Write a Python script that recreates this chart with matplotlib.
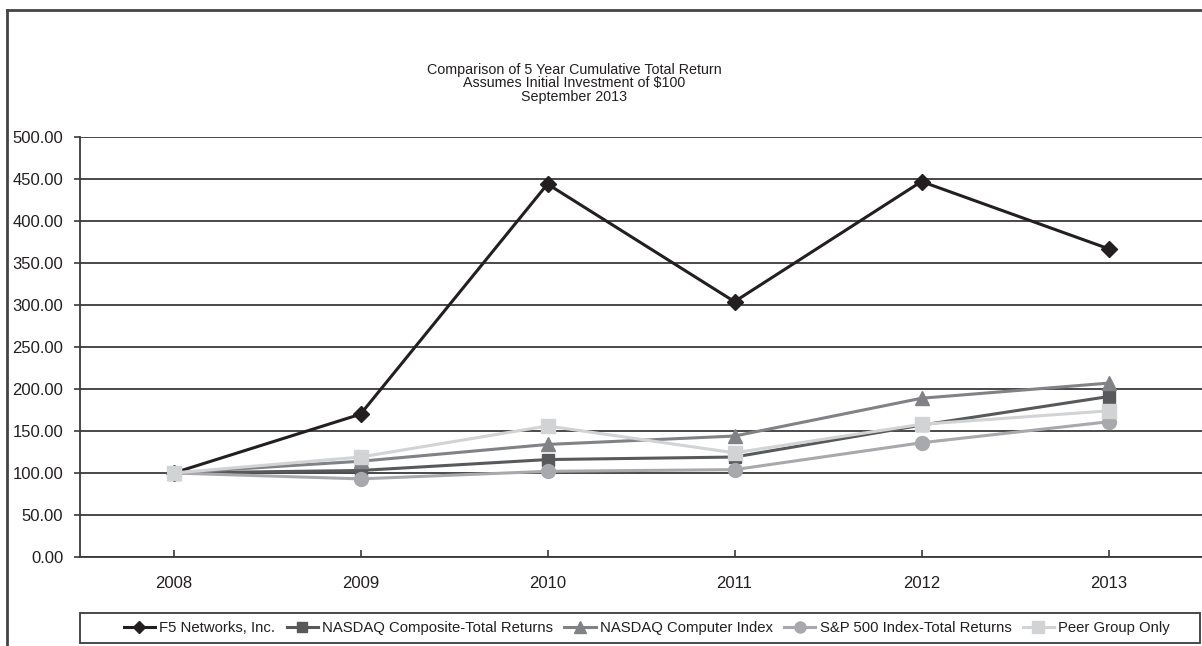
import matplotlib
matplotlib.use("Agg")
import matplotlib.pyplot as plt
from matplotlib.lines import Line2D
from matplotlib.patches import Rectangle
from matplotlib.ticker import FormatStrFormatter

plt.rcParams['font.family'] = ['Liberation Sans', 'DejaVu Sans']

years = ["2008", "2009", "2010", "2011", "2012", "2013"]
f5 = [100.0, 170.0, 444.0, 304.0, 447.0, 367.0]
nasdaq_comp = [100.0, 103.0, 116.0, 119.0, 157.0, 191.0]
nasdaq_computer = [100.0, 114.0, 134.0, 144.0, 189.0, 207.0]
sp500 = [100.0, 93.0, 102.0, 104.0, 136.0, 161.0]
peer = [100.0, 119.0, 156.0, 124.0, 158.0, 174.0]

series_names = ["F5 Networks, Inc.", "NASDAQ Composite-Total Returns",
                "NASDAQ Computer Index", "S&P 500 Index-Total Returns",
                "Peer Group Only"]
title_lines = ["Comparison of 5 Year Cumulative Total Return",
               "Assumes Initial Investment of $100",
               "September 2013"]
y_ticks = [0, 50, 100, 150, 200, 250, 300, 350, 400, 450, 500]

W, H = 1202, 646
fig = plt.figure(figsize=(W / 100, H / 100), dpi=100)
ax = fig.add_axes([80 / W, (H - 557) / H, (1202 - 80) / W, (557 - 137) / H])

styles = [
    dict(color="#231f20", marker="D", markersize=8),
    dict(color="#58595b", marker="s", markersize=9),
    dict(color="#808285", marker="^", markersize=10),
    dict(color="#a7a9ac", marker="o", markersize=10),
    dict(color="#d1d3d4", marker="s", markersize=10),
]
data = [f5, nasdaq_comp, nasdaq_computer, sp500, peer]
x = list(range(len(years)))
handles = []
for vals, name, st in zip(data, series_names, styles):
    h, = ax.plot(x, vals, lw=2.2, label=name, zorder=3, **st)
    handles.append(h)

ax.set_xlim(-0.5, len(years) - 0.5)
ax.set_ylim(0, 500)
ax.set_yticks(y_ticks)
ax.yaxis.set_major_formatter(FormatStrFormatter("%.2f"))
ax.set_xticks(x)
ax.set_xticklabels(years)
ax.grid(axis="y", color="#3a3a3a", lw=1.3, zorder=1)
ax.set_axisbelow(True)
for s in ["top", "right"]:
    ax.spines[s].set_visible(False)
ax.spines["left"].set_color("#3a3a3a")
ax.spines["bottom"].set_color("#3a3a3a")
ax.spines["left"].set_linewidth(1.3)
ax.spines["bottom"].set_linewidth(1.3)
ax.tick_params(axis="y", direction="out", length=4, width=1.2, colors="#3a3a3a",
               labelcolor="#231f20", labelsize=12, pad=8)
ax.tick_params(axis="x", direction="in", length=5, width=1.2, colors="#3a3a3a",
               labelcolor="#231f20", labelsize=12, pad=14)

# title
for i, t in enumerate(title_lines):
    fig.text(574 / W, 1 - (70 + i * 13.5) / H, t, ha="center", va="center",
             fontsize=10.3, color="#231f20")

# outer frame (left and top lines)
fig.add_artist(Line2D([7 / W, 7 / W], [0, 1 - 10 / H], transform=fig.transFigure,
                      color="#444444", lw=2))
fig.add_artist(Line2D([7 / W, 1.0], [1 - 10 / H, 1 - 10 / H], transform=fig.transFigure,
                      color="#444444", lw=2))

# legend frame
fig.add_artist(Rectangle((80 / W, (H - 643) / H), (1200 - 80) / W, 30 / H,
                         transform=fig.transFigure, fill=False,
                         edgecolor="#3a3a3a", lw=1.3))
leg = fig.legend(handles=handles, loc="center", bbox_to_anchor=(647 / W, 1 - 628 / H),
                 ncol=5, frameon=False, fontsize=10.7, handlelength=2.1,
                 handletextpad=0.3, columnspacing=0.75, markerscale=0.8,
                 borderaxespad=0, borderpad=0)
for t in leg.get_texts():
    t.set_color("#231f20")

fig.savefig("out.png", dpi=100)
